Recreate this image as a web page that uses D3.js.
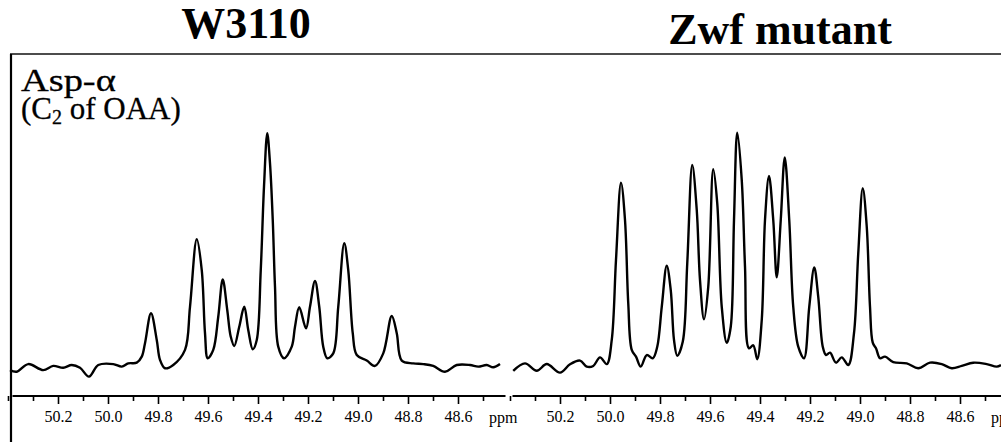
<!DOCTYPE html>
<html lang="en">
  <head>
    <meta charset="UTF-8" />
    <title>Asp-α 13C NMR: W3110 vs Zwf mutant</title>
    <script src="https://d3js.org/d3.v7.min.js"></script>
    <style>
      body {
        margin: 0;
        background: #fff;
      }
      svg {
        display: block;
      }
    </style>
  </head>
  <body>
    <svg id="chart" width="1001" height="442"></svg>

    <script>
      const width = 1001;
      const height = 442;
      const serif = "'Liberation Serif', 'Times New Roman', serif";

      // panel titles
      const titles = ["W3110", "Zwf mutant"];

      // W3110 spectrum, chemical shift (ppm) and intensity (arbitrary units)
      const w3110Ppm = [
        50.392, 50.365, 50.319, 50.259, 50.219, 50.179, 50.145, 50.112, 50.076, 50.039,
        49.979, 49.945, 49.919, 49.885, 49.865, 49.852, 49.828, 49.805, 49.792, 49.772,
        49.739, 49.692, 49.672, 49.645, 49.625, 49.612, 49.601, 49.579, 49.559, 49.541,
        49.523, 49.509, 49.495, 49.475, 49.455, 49.439, 49.421, 49.405, 49.389, 49.376,
        49.363, 49.352, 49.341, 49.332, 49.319, 49.296, 49.265, 49.252, 49.235, 49.208,
        49.192, 49.172, 49.155, 49.139, 49.123, 49.099, 49.079, 49.055, 49.039, 49.021,
        49.005, 48.965, 48.932, 48.899, 48.865, 48.845, 48.825, 48.779, 48.739, 48.699,
        48.652, 48.605, 48.552, 48.519, 48.485, 48.459, 48.432
      ];
      const w3110Int = [
        -2.2, -2.9, 0.4, -2.2, -0.4, -1.2, 0, -1.2, -5.0, 0,
        0.4, -0.7, 0.7, 1.0, 3.6, 9.4, 22.3, 10.8, 2.2, -1.4,
        0, 6.5, 25.1, 54.2, 40.9, 13.7, 2.9, 6.5, 20.8, 36.9,
        23.7, 12.2, 8.2, 16.5, 25.1, 15.1, 6.8, 10.8, 40.9, 76.9,
        99.9, 86.9, 62.5, 33.7, 7.9, 2.9, 7.9, 16.5, 24.9, 15.8,
        25.1, 36.2, 25.1, 7.9, 2.9, 5.0, 25.1, 52.5, 40.9, 13.7,
        4.3, 1.9, -0.4, 5.0, 21.1, 13.7, 1.9, 0.7, 0.4, -0.4,
        -2.9, 0, 0, -0.7, 0, -1.0, 0.4
      ];

      // Zwf mutant spectrum
      const zwfPpm = [
        50.387, 50.340, 50.293, 50.253, 50.200, 50.160, 50.120, 50.093, 50.067, 50.040,
        50.013, 49.993, 49.976, 49.956, 49.940, 49.927, 49.913, 49.896, 49.877, 49.853,
        49.829, 49.811, 49.793, 49.773, 49.757, 49.744, 49.731, 49.709, 49.691, 49.671,
        49.653, 49.640, 49.624, 49.607, 49.587, 49.571, 49.553, 49.533, 49.517, 49.504,
        49.491, 49.473, 49.460, 49.444, 49.427, 49.411, 49.393, 49.380, 49.364, 49.347,
        49.333, 49.317, 49.301, 49.283, 49.267, 49.247, 49.224, 49.203, 49.183, 49.167,
        49.149, 49.136, 49.120, 49.096, 49.073, 49.047, 49.024, 49.007, 48.989, 48.973,
        48.960, 48.949, 48.936, 48.920, 48.900, 48.867, 48.813, 48.767, 48.720, 48.673,
        48.633, 48.593, 48.547, 48.493, 48.453, 48.436
      ];
      const zwfInt = [
        -2.5, 0.7, -2.5, 0.4, -3.3, 0.3, 1.9, -0.7, -0.4, 3.3,
        0.4, 10.8, 45.3, 78.6, 62.5, 26.6, 6.5, 3.6, -0.7, 4.3,
        2.9, 7.9, 25.1, 42.8, 32.3, 10.8, 4.0, 10.0, 43.8, 86.2,
        66.8, 36.6, 19.7, 33.7, 84.4, 69.7, 25.1, 9.6, 16.5, 62.5,
        100.1, 79.7, 42.4, 7.2, 8.5, 2.5, 19.4, 62.5, 81.5, 62.5,
        37.8, 62.5, 89.5, 62.5, 25.1, 7.9, 2.9, 25.1, 42.1, 29.4,
        7.9, 4.3, 5.3, 1.0, 3.3, 0, 13.7, 48.1, 76.2, 59.6,
        25.1, 9.6, 7.2, 2.9, 3.6, 1.2, 0.7, -1.4, 1.0, 0.4,
        -1.4, -0.4, 1.0, 0.4, -0.7, 0
      ];

      // axis ticks every 0.1 ppm, labels every 0.2 ppm
      const tickPpm = [50.4, 50.3, 50.2, 50.1, 50.0, 49.9, 49.8, 49.7, 49.6, 49.5, 49.4, 49.3, 49.2, 49.1, 49.0, 48.9, 48.8, 48.7, 48.6, 48.5];
      const labelPpm = ["50.2", "50.0", "49.8", "49.6", "49.4", "49.2", "49.0", "48.8", "48.6"];
      const axisExtent = [50.39, 48.41];

      const svg = d3.select("#chart");

      const y = d3.scaleLinear().domain([0, 100]).range([365, 133]);
      const axisY = 396;

      const panels = [
        { title: titles[0], ppm: w3110Ppm, inten: w3110Int, range: [8, 508], titleX: 246, titleY: 38 },
        { title: titles[1], ppm: zwfPpm, inten: zwfInt, range: [510, 1010], titleX: 780, titleY: 44 },
      ];

      panels.forEach((p, i) => {
        const x = d3.scaleLinear().domain([50.4, 48.4]).range(p.range);
        const g = svg.append("g");

        g.append("text")
          .attr("x", p.titleX)
          .attr("y", p.titleY)
          .attr("text-anchor", "middle")
          .attr("font-family", serif)
          .attr("font-weight", "bold")
          .attr("font-size", 44)
          .text(p.title);

        const data = p.ppm.map((v, k) => ({ ppm: v, val: p.inten[k] }));
        const line = d3
          .line()
          .x((d) => x(d.ppm))
          .y((d) => y(d.val))
          .curve(d3.curveCatmullRom.alpha(0.5));

        g.append("path")
          .datum(data)
          .attr("fill", "none")
          .attr("stroke", "#000")
          .attr("stroke-width", 2.4)
          .attr("stroke-linejoin", "round")
          .attr("d", line);

        // axis
        const ax = d3
          .axisBottom(x)
          .tickValues(tickPpm)
          .tickSizeOuter(0)
          .tickFormat((d) => {
            const s = d.toFixed(1);
            return labelPpm.includes(s) ? s : "";
          });

        const axG = g.append("g").attr("transform", `translate(0,${axisY})`).call(ax);
        axG.attr("font-family", serif).attr("font-size", 16);
        axG.select(".domain").remove();
        axG.selectAll(".tick line")
          .attr("stroke", "#000")
          .attr("stroke-width", 1.6)
          .attr("y2", (d) => (labelPpm.includes(d.toFixed(1)) ? 8 : 5));
        axG.selectAll(".tick text").attr("y", 15).attr("fill", "#000");

        g.append("line")
          .attr("x1", x(axisExtent[0]) + (i === 0 ? 2 : 0))
          .attr("x2", x(axisExtent[1]))
          .attr("y1", axisY)
          .attr("y2", axisY)
          .attr("stroke", "#000")
          .attr("stroke-width", 2);

        g.append("text")
          .attr("x", x(48.5) + 6)
          .attr("y", 423)
          .attr("font-family", serif)
          .attr("font-size", 16)
          .text("ppm");
      });

      // frame: top rule and left edge
      svg.append("line")
        .attr("x1", 10).attr("x2", width)
        .attr("y1", 54).attr("y2", 54)
        .attr("stroke", "#111").attr("stroke-width", 1.6);
      svg.append("line")
        .attr("x1", 11).attr("x2", 11)
        .attr("y1", 54).attr("y2", height)
        .attr("stroke", "#000").attr("stroke-width", 2.2);

      // compound label
      svg.append("text")
        .attr("transform", "translate(21,91) scale(1.2,1)")
        .attr("font-family", serif)
        .attr("font-size", 32)
        .attr("stroke", "#000")
        .attr("stroke-width", 0.3)
        .text("Asp-α");
      const l2 = svg.append("text")
        .attr("x", 21).attr("y", 119)
        .attr("font-family", serif)
        .attr("font-size", 31)
        .attr("stroke", "#000")
        .attr("stroke-width", 0.3);
      l2.append("tspan").text("(C");
      l2.append("tspan").attr("font-size", 20).attr("dy", 5).text("2");
      l2.append("tspan").attr("dy", -5).text(" of OAA)");
    </script>
  </body>
</html>
